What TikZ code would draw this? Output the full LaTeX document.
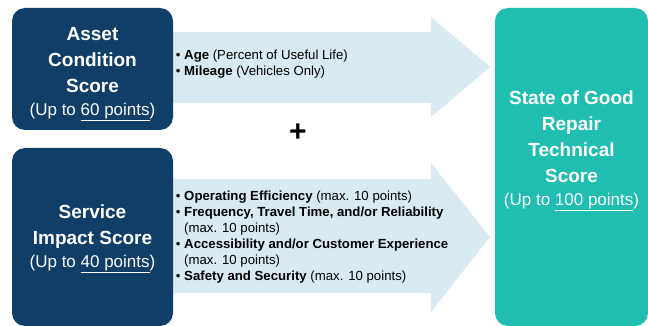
\documentclass[tikz,border=0pt]{standalone}
\usepackage{fontspec}
\setmainfont{Liberation Sans}
\usepackage{xcolor}
\definecolor{scorenavy}{HTML}{0F3F69}
\definecolor{scoreteal}{HTML}{20BEB0}
\definecolor{arrowblue}{HTML}{DAEAF2}
\tikzset{
  scorebox/.style={fill=scorenavy, draw=none, rounded corners=13pt},
  scoretext/.style={text=white, align=center, inner sep=0.75pt, font=\bfseries\fontsize{19}{26}\selectfont},
  listtext/.style={anchor=west, align=left, inner sep=0.75pt, font=\fontsize{13.2}{16}\selectfont}
}
\newcommand{\uptopts}[1]{\\[-3pt]{\normalfont\fontsize{17}{20}\selectfont(Up to \underline{#1 points})}}
\newcommand{\subline}{\phantom{\textbullet\ }}

\begin{document}
\begin{tikzpicture}[x=1pt,y=1pt,yscale=-1,xscale=1]
    \useasboundingbox (0,0) rectangle (648,326);

    %Shape: Right Arrow [id:top]
    \fill [arrowblue] (160,32) -- (431,32) -- (431,17) -- (490,67) -- (431,117) -- (431,103) -- (160,103) -- cycle ;
    %Shape: Right Arrow [id:bottom]
    \fill [arrowblue] (160,179) -- (431,179) -- (431,163) -- (490,237) -- (431,312) -- (431,293) -- (160,293) -- cycle ;

    %Shape: Rounded Rect [id:asset]
    \path [scorebox] (12,8) rectangle (173,130) ;
    %Shape: Rounded Rect [id:service]
    \path [scorebox] (12,148) rectangle (173,326) ;
    %Shape: Rounded Rect [id:sgr]
    \path [scorebox, fill=scoreteal] (495,8) rectangle (648,326) ;

    % Text Node
    \node [scoretext] (asset) at (92.5,74) {Asset\\Condition\\Score\uptopts{60}};
    % Text Node
    \node [scoretext] (service) at (92.5,239) {Service\\Impact Score\uptopts{40}};
    % Text Node
    \node [scoretext] (sgr) at (571.5,151) {State of Good\\Repair\\Technical\\Score\uptopts{100}};

    % Text Node
    \node [listtext] (assetlist) at (175,64.5) {\textbullet\ \textbf{Age} (Percent of Useful Life)\\\textbullet\ \textbf{Mileage} (Vehicles Only)};
    % Text Node
    \node [listtext] (servicelist) at (175,237) {\textbullet\ \textbf{Operating Efficiency} (max. 10 points)\\
      \textbullet\ \textbf{Frequency, Travel Time, and/or Reliability}\\
      \subline(max. 10 points)\\
      \textbullet\ \textbf{Accessibility and/or Customer Experience}\\
      \subline(max. 10 points)\\
      \textbullet\ \textbf{Safety and Security} (max. 10 points)};

    % Text Node
    \node [inner sep=0pt, font=\bfseries\fontsize{30}{30}\selectfont] (plus) at (298,133) {+};

\end{tikzpicture}
\end{document}
